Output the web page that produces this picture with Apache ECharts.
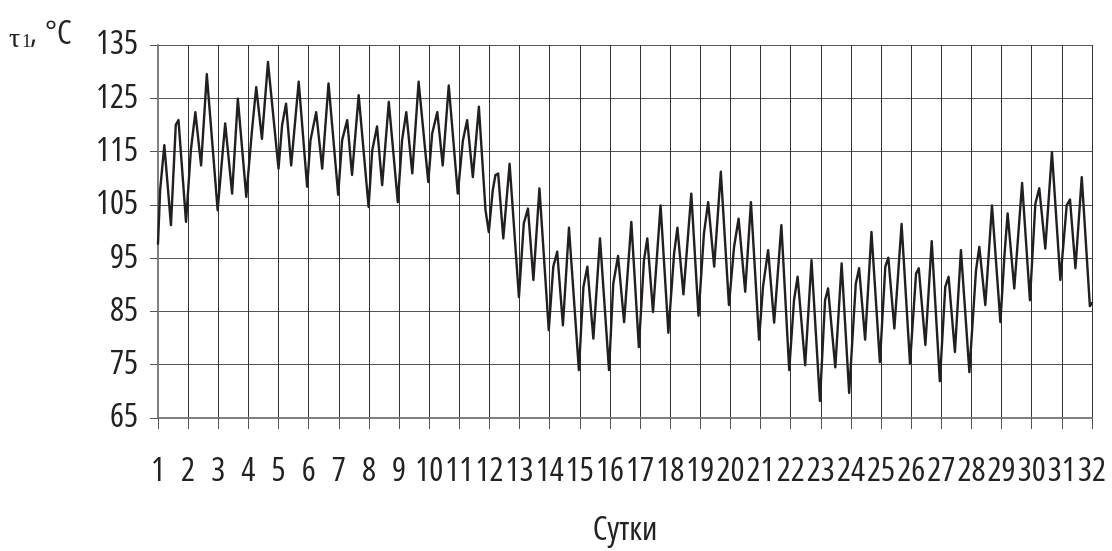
<!DOCTYPE html>
<html>
<head>
<meta charset="utf-8">
<script src="https://cdn.jsdelivr.net/npm/echarts@6/dist/echarts.min.js"></script>
<style>
  html, body { margin: 0; padding: 0; background: #fff; }
  #chart { width: 1112px; height: 551px; }
</style>
</head>
<body>
<div id="chart"></div>
<script>
// day position (1 = start of day 1) and supply water temperature tau1, °C
const days = [
  1.00, 1.07, 1.21, 1.26, 1.43, 1.48, 1.59, 1.68, 1.93, 2.09, 2.24, 2.43, 2.62, 2.98,
  3.23, 3.46, 3.65, 3.93, 4.12, 4.26, 4.45, 4.65, 5.00, 5.12, 5.25, 5.42, 5.67, 5.95,
  6.06, 6.25, 6.45, 6.66, 6.98, 7.11, 7.28, 7.44, 7.66, 7.99, 8.11, 8.27, 8.44, 8.66,
  8.96, 9.10, 9.24, 9.44, 9.65, 9.97, 10.10, 10.27, 10.45, 10.65, 10.95, 11.12, 11.26,
  11.45, 11.65, 11.87, 11.98, 12.11, 12.20, 12.29, 12.46, 12.67, 12.98, 13.14, 13.28,
  13.46, 13.66, 13.97, 14.12, 14.25, 14.44, 14.64, 14.97, 15.12, 15.25, 15.45, 15.67,
  15.97, 16.11, 16.27, 16.47, 16.71, 16.96, 17.13, 17.24, 17.43, 17.68, 17.94, 18.13,
  18.24, 18.44, 18.70, 18.94, 19.12, 19.26, 19.46, 19.68, 19.95, 20.12, 20.27, 20.49,
  20.68, 20.95, 21.08, 21.25, 21.45, 21.69, 21.95, 22.11, 22.23, 22.48, 22.69, 22.97,
  23.14, 23.24, 23.48, 23.69, 23.94, 24.16, 24.27, 24.47, 24.68, 24.96, 25.14, 25.24,
  25.44, 25.68, 25.96, 26.16, 26.25, 26.47, 26.68, 26.95, 27.13, 27.24, 27.45, 27.65,
  27.93, 28.15, 28.26, 28.46, 28.68, 28.96, 29.09, 29.20, 29.42, 29.68, 29.94, 30.12,
  30.25, 30.45, 30.67, 30.95, 31.16, 31.27, 31.45, 31.66, 31.93, 32.00
];
const temps = [
  97.7, 107.7, 116.2, 116.0, 101.2, 101.0, 120.0, 120.9, 101.8, 115.2, 122.4, 112.4, 129.5, 104.0,
  120.3, 107.1, 124.9, 106.5, 119.0, 127.1, 117.4, 131.8, 111.8, 120.0, 124.0, 112.4, 128.1, 108.4,
  117.1, 122.4, 111.8, 127.8, 106.9, 117.1, 120.9, 110.6, 125.6, 104.6, 115.2, 119.7, 108.7, 124.3,
  105.5, 117.1, 122.4, 110.9, 128.1, 109.3, 118.4, 122.4, 112.4, 127.4, 107.1, 117.1, 120.9,
  110.2, 123.4, 104.0, 99.9, 107.7, 110.6, 110.9, 98.7, 112.7, 87.7, 101.5, 104.3,
  90.9, 108.1, 81.5, 93.4, 96.2, 82.4, 100.7, 74.0, 89.6, 93.4, 79.9, 98.7,
  74.0, 90.2, 95.4, 83.0, 101.8, 78.3, 94.6, 98.7, 84.9, 104.9, 81.0, 95.9,
  100.7, 88.2, 107.1, 84.2, 99.6, 105.5, 93.4, 111.2, 86.2, 97.1, 102.4, 88.7,
  105.5, 79.7, 89.6, 96.5, 82.9, 101.2, 74.0, 87.1, 91.5, 74.9, 94.6, 68.2,
  87.1, 89.3, 74.5, 94.0, 69.7, 90.2, 93.1, 79.7, 99.9, 75.5, 93.4, 95.1,
  81.8, 101.4, 75.2, 92.1, 93.1, 78.7, 98.2, 71.9, 89.6, 91.5, 77.4, 96.5,
  73.6, 92.7, 97.1, 86.2, 104.9, 83.0, 95.2, 103.4, 89.3, 109.1, 87.1, 105.2,
  108.1, 96.8, 114.9, 90.9, 104.9, 106.0, 93.1, 110.2, 86.0, 86.6
];
const yMin = 65, yMax = 135, yStep = 10;
const dayMin = 1, dayMax = 32;

// the original uses a narrow sans; pick the first narrow face that is really installed
function pickNarrowFont() {
  const ctx = document.createElement('canvas').getContext('2d');
  const sample = '0123456789 Сутки';
  ctx.font = '30px "Liberation Sans"';
  const base = ctx.measureText(sample).width;
  const candidates = [
    ['normal', '"Liberation Sans Narrow"'],
    ['normal', '"Arial Narrow"'],
    ['condensed', '"Noto Sans"'],
    ['condensed', '"Open Sans"'],
    ['condensed', 'Roboto'],
    ['normal', '"DejaVu Sans Condensed"']
  ];
  for (const [stretch, family] of candidates) {
    ctx.font = (stretch === 'normal' ? '' : stretch + ' ') + '30px ' + family;
    if (ctx.measureText(sample).width < base * 0.9) return { stretch, family };
  }
  return { stretch: 'normal', family: '"Liberation Sans"' };
}
const narrow = pickNarrowFont();
const labelStyle = (size) => ({
  fontFamily: narrow.family,
  fontStyle: narrow.stretch === 'normal' ? 'normal' : 'normal ' + narrow.stretch,
  fontSize: size,
  color: '#222'
});
const cssFont = (size) => (narrow.stretch === 'normal' ? '' : narrow.stretch + ' ') + size + 'px ' + narrow.family;

const chart = echarts.init(document.getElementById('chart'), null, { renderer: 'canvas' });
chart.setOption({
  animation: false,
  backgroundColor: '#ffffff',
  grid: { left: 158, right: 20, top: 45, bottom: 133, outerBoundsMode: 'none', containLabel: false },
  graphic: [
    { type: 'text', left: 9, top: 26, style: { text: 'τ', font: '28px "Liberation Serif", serif', fill: '#222' } },
    { type: 'text', left: 22, top: 33, style: { text: '1', font: '19px "Liberation Serif", serif', fill: '#222' } },
    { type: 'text', left: 30, top: 19, style: { text: ',', font: cssFont(31), fill: '#222' } },
    { type: 'text', left: 45, top: 18, style: { text: '°C', font: cssFont(33), fill: '#222' } }
  ],
  xAxis: {
    type: 'value',
    min: dayMin,
    max: dayMax,
    interval: 1,
    name: 'Сутки',
    nameLocation: 'middle',
    nameGap: 96,
    nameTextStyle: labelStyle(33),
    axisLine: { lineStyle: { color: '#808080', width: 2 } },
    axisTick: { length: 11, lineStyle: { color: '#555', width: 1 } },
    axisLabel: Object.assign({ margin: 37, showMinLabel: true, showMaxLabel: true, formatter: v => String(v) }, labelStyle(33)),
    splitLine: { show: true, lineStyle: { color: '#333', width: 1 } }
  },
  yAxis: {
    type: 'value',
    min: yMin,
    max: yMax,
    interval: yStep,
    axisLine: { show: true, lineStyle: { color: '#808080', width: 2 } },
    axisTick: { show: true, length: 8, lineStyle: { color: '#555', width: 1 } },
    axisLabel: Object.assign({ margin: 20 }, labelStyle(33)),
    splitLine: { show: true, lineStyle: { color: '#555', width: 1 } }
  },
  series: [
    {
      type: 'line',
      data: days.map((d, i) => [d, temps[i]]),
      showSymbol: false,
      symbol: 'none',
      lineStyle: { color: '#231f20', width: 2.4, join: 'round', cap: 'round' },
      z: 5
    }
  ]
});
</script>
</body>
</html>
